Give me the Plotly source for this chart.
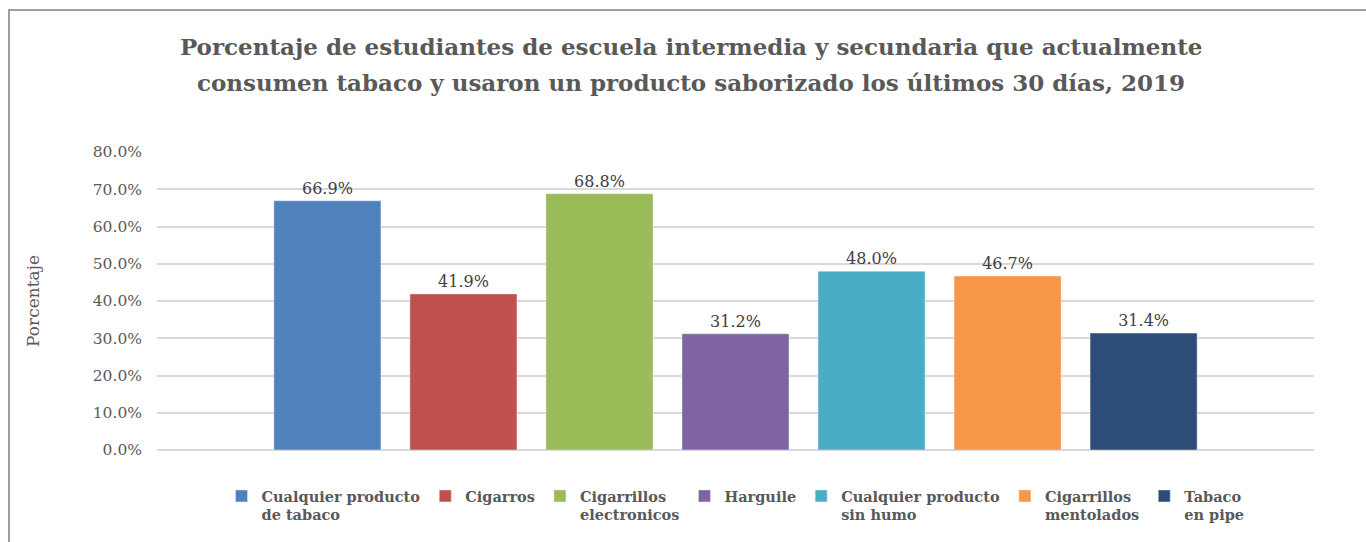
import plotly.graph_objects as go

categories = ["Cualquier producto<br>de tabaco", "Cigarros", "Cigarrillos<br>electronicos",
              "Harguile", "Cualquier producto<br>sin humo", "Cigarrillos<br>mentolados",
              "Tabaco<br>en pipe"]
values = [66.9, 41.9, 68.8, 31.2, 48.0, 46.7, 31.4]
colors = ["#4F81BD", "#C0504D", "#9BBB59", "#8064A2", "#4BACC6", "#F79646", "#2C4D75"]
y_ticks = [0, 10, 20, 30, 40, 50, 60, 70, 80]
title_lines = ["Porcentaje de estudiantes de escuela intermedia y secundaria que actualmente",
               "consumen tabaco y usaron un producto saborizado los últimos 30 días, 2019"]

SERIF = "DejaVu Serif"

fig = go.Figure()
for name, v, c in zip(categories, values, colors):
    fig.add_trace(go.Bar(
        x=["2019"], y=[v], name=name, marker_color=c,
        text=[v], texttemplate="%{y:.1f}%", textposition="outside",
        textfont=dict(family=SERIF, size=16, color="#404040"),
        cliponaxis=False,
    ))

fig.update_layout(
    width=1366, height=542,
    barmode="group", bargap=0.177, bargroupgap=0.213,
    plot_bgcolor="white", paper_bgcolor="white",
    margin=dict(l=157, r=52, t=152, b=92),
    title=dict(
        text=title_lines[0],
        font=dict(family=SERIF, size=23, color="#595959", weight="bold"),
        x=0.506, xanchor="center", y=1 - 47 / 542, yanchor="middle",
    ),
    annotations=[dict(
        text=title_lines[1], xref="paper", yref="paper",
        x=(691 - 157) / 1157, y=(450 - 82) / 298, xanchor="center", yanchor="middle",
        showarrow=False, font=dict(family=SERIF, size=23, color="#595959", weight="bold"),
    )],
    xaxis=dict(showticklabels=False, showgrid=False, zeroline=False, showline=False),
    yaxis=dict(
        range=[0, 80], tickvals=y_ticks, ticktext=[f"{t:.1f}%" for t in y_ticks],
        showgrid=True, gridcolor="#D9D9D9", gridwidth=1.5,
        zeroline=True, zerolinecolor="#D9D9D9", zerolinewidth=1.5,
        tickfont=dict(family=SERIF, size=15.5, color="#595959"),
        ticklabelstandoff=14,
        title=dict(text="Porcentaje", font=dict(family=SERIF, size=17, color="#595959"), standoff=48),
    ),
    legend=dict(
        orientation="h", x=0.5, xanchor="center",
        yref="container", y=1 - 480 / 542, yanchor="top",
        font=dict(family=SERIF, size=14.5, color="#595959", weight="bold"),
        valign="top", itemwidth=30, tracegroupgap=0,
    ),
    showlegend=True,
    shapes=[dict(type="rect", xref="paper", yref="paper",
                 x0=(9 - 157) / 1157, x1=2, y0=-2, y1=(450 - 10) / 298,
                 line=dict(color="#7F7F7F", width=1.5), fillcolor="rgba(0,0,0,0)", layer="below")],
)

fig.write_html("out.html", config={"displayModeBar": False},
               post_script="document.body.style.margin='0';")
